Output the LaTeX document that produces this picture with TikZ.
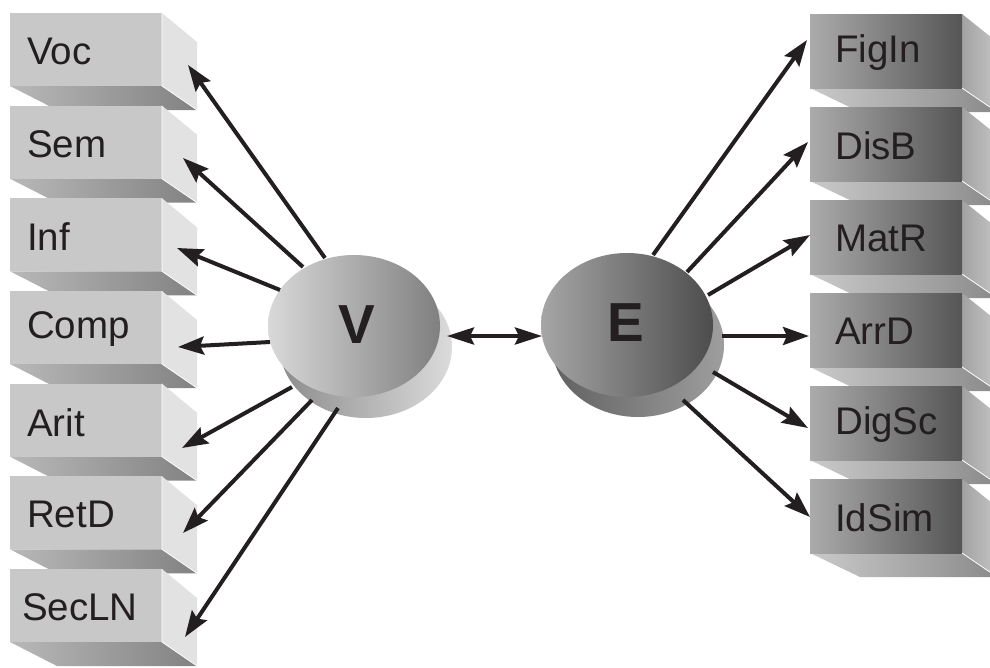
\documentclass[tikz,border=0pt]{standalone}
\usepackage{fontspec}
\setmainfont{Liberation Sans}
\usetikzlibrary{arrows.meta}
\definecolor{ink}{HTML}{231F20}
\definecolor{lfront}{HTML}{C8C8C8}
\definecolor{lside}{HTML}{E2E2E2}
\definecolor{lbotA}{HTML}{B8B8B8}
\definecolor{lbotB}{HTML}{828282}
\definecolor{rfrontA}{HTML}{ABABAB}
\definecolor{rfrontB}{HTML}{555555}
\definecolor{rsideA}{HTML}{A2A2A2}
\definecolor{rsideB}{HTML}{C4C4C4}
\definecolor{rbotA}{HTML}{CACACA}
\definecolor{rbotB}{HTML}{8A8A8A}
\tikzset{
  boxlabel/.style={anchor=west,inner sep=0pt,text=ink,font=\fontsize{38.5}{42}\selectfont},
  biglabel/.style={inner sep=0pt,text=ink,font=\fontsize{55}{60}\selectfont\bfseries},
  link/.style={draw=ink,line width=4pt,-{Stealth[length=26pt,width=18pt,inset=4pt]}},
  dlink/.style={draw=ink,line width=4pt,{Stealth[length=27pt,width=17pt,inset=4pt]}-{Stealth[length=27pt,width=17pt,inset=4pt]}},
  edge/.style={draw=white,line width=0.8pt}
}
\begin{document}
\begin{tikzpicture}[x=1pt,y=-1pt]
\useasboundingbox (0,0) rectangle (990,667);
\clip (0,0) rectangle (990,667);
% left boxes
\foreach \n/\y/\tx in {Voc/13/27,Sem/105.7/27,Inf/198.3/27,Comp/291/27,Arit/383.7/27,RetD/476.3/27,SecLN/569/22}{
  \fill[lside] (162,\y) -- (197,\y+29) -- (197,\y+97) -- (162,\y+73) -- cycle;
  \shade[left color=lbotA,right color=lbotB] (10,\y+73) -- (162,\y+73) -- (197,\y+97) -- (57,\y+97) -- cycle;
  \fill[lfront] (10,\y) rectangle (162,\y+73);
  \draw[edge] (162,\y) -- (162,\y+73) -- (197,\y+97);
  \node[boxlabel] (\n) at (\tx,\y+38.5) {\n};
}
% right boxes
\foreach \n/\y in {FigIn/14,DisB/107,MatR/200,ArrD/293,DigSc/386,IdSim/479}{
  \shade[left color=rsideA,right color=rsideB] (962,\y) -- (997,\y+28) -- (997,\y+98) -- (962,\y+74) -- cycle;
  \shade[left color=rbotA,right color=rbotB] (810,\y+74) -- (962,\y+74) -- (997,\y+98) -- (860,\y+98) -- cycle;
  \shade[left color=rfrontA,right color=rfrontB] (810,\y) rectangle (962,\y+74);
  \draw[edge] (962,\y+74) -- (997,\y+98);
  \node[boxlabel] (\n) at (835,\y+38.5) {\n};
}
% V disc
\shade[left color=black!45,right color=black!14] (366,347) ellipse [x radius=86pt,y radius=71pt];
\shade[left color=black!15,right color=black!50] (354,326) ellipse [x radius=86pt,y radius=71pt];
\node[biglabel] (V) at (357,325) {V};
% E disc
\shade[left color=black!62,right color=black!38] (638,345) ellipse [x radius=86pt,y radius=72pt];
\shade[left color=black!35,right color=black!70] (627,325) ellipse [x radius=86pt,y radius=72pt];
\node[biglabel] (E) at (626,323) {E};
% arrow end points
\coordinate (vVoc) at (325,258);   \coordinate (tVoc) at (188,65);
\coordinate (vSem) at (303,267);   \coordinate (tSem) at (183,158);
\coordinate (vInf) at (280,290);   \coordinate (tInf) at (177,248);
\coordinate (vComp) at (270,342);  \coordinate (tComp) at (178,347);
\coordinate (vArit) at (292,387);  \coordinate (tArit) at (182,448);
\coordinate (vRetD) at (312,400);  \coordinate (tRetD) at (183,533);
\coordinate (vSecLN) at (338,408); \coordinate (tSecLN) at (185,637);
\coordinate (eFigIn) at (653,255); \coordinate (tFigIn) at (807,40);
\coordinate (eDisB) at (687,272);  \coordinate (tDisB) at (808,142);
\coordinate (eMatR) at (708,295);  \coordinate (tMatR) at (810,235);
\coordinate (eArrD) at (722,336);  \coordinate (tArrD) at (809,336);
\coordinate (eDigSc) at (713,372); \coordinate (tDigSc) at (808,428);
\coordinate (eIdSim) at (683,400); \coordinate (tIdSim) at (810,517);
\coordinate (vRight) at (447,336); \coordinate (eLeft) at (542,336);
\foreach \n in {Voc,Sem,Inf,Comp,Arit,RetD,SecLN}{
  \draw[link] (v\n) -- (t\n);
}
\foreach \n in {FigIn,DisB,MatR,ArrD,DigSc,IdSim}{
  \draw[link] (e\n) -- (t\n);
}
\draw[dlink] (vRight) -- (eLeft);
\end{tikzpicture}
\end{document}
